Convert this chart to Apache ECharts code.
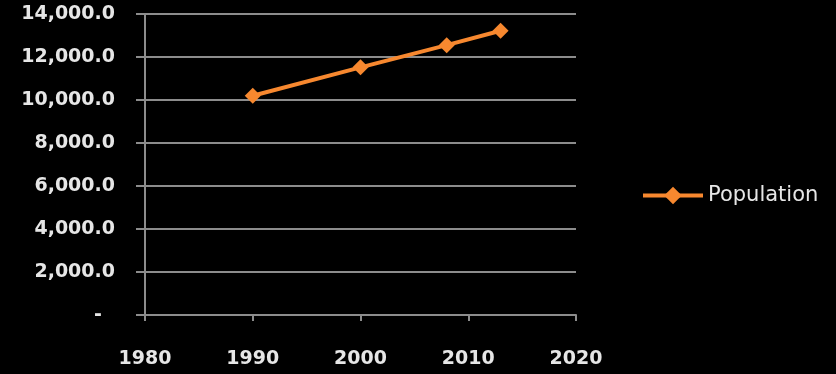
<!DOCTYPE html>
<html>
<head>
<meta charset="utf-8">
<script src="https://cdn.jsdelivr.net/npm/echarts@6/dist/echarts.min.js"></script>
<style>
  html, body { margin: 0; padding: 0; background: #000; }
  #chart { width: 836px; height: 374px; }
</style>
</head>
<body>
<div id="chart"></div>
<script>
// Population by year
const years = [1990, 2000, 2008, 2013];
const population = [10200, 11520, 12550, 13220];
const seriesName = 'Population';

const chart = echarts.init(document.getElementById('chart'));
const axisGray = '#8c8c8c';
const textColor = '#e6e6e6';
const orange = '#f7882f';
const labelFont = 'DejaVu Sans';

chart.setOption({
  backgroundColor: '#000',
  animation: false,
  grid: { left: 145, right: 260, top: 14, bottom: 59 },
  legend: {
    data: [seriesName],
    left: 636,
    top: 180,
    itemWidth: 60,
    itemHeight: 22,
    itemGap: 5,
    lineStyle: { width: 4 },
    textStyle: { color: textColor, fontSize: 21, fontFamily: labelFont }
  },
  xAxis: {
    type: 'value',
    min: 1980,
    max: 2020,
    interval: 10,
    splitLine: { show: false },
    axisLine: { show: true, onZero: false, lineStyle: { color: axisGray, width: 2 } },
    axisTick: { show: true, length: 6, lineStyle: { color: axisGray, width: 2 } },
    axisLabel: {
      color: textColor, fontSize: 19, fontWeight: 'bold', fontFamily: labelFont, margin: 35,
      formatter: v => String(v)
    }
  },
  yAxis: {
    type: 'value',
    min: 0,
    max: 14000,
    interval: 2000,
    axisLine: { show: true, lineStyle: { color: axisGray, width: 2 } },
    axisTick: { show: true, length: 9, lineStyle: { color: axisGray, width: 2 } },
    splitLine: { show: true, lineStyle: { color: axisGray, width: 2 } },
    axisLabel: {
      color: textColor, fontSize: 19, fontWeight: 'bold', fontFamily: labelFont, margin: 30,
      formatter: v => v === 0 ? '-  ' : v.toLocaleString('en-US', { minimumFractionDigits: 1, maximumFractionDigits: 1 })
    }
  },
  series: [{
    name: seriesName,
    type: 'line',
    data: years.map((y, i) => [y, population[i]]),
    symbol: 'diamond',
    symbolSize: 16,
    lineStyle: { color: orange, width: 4 },
    itemStyle: { color: orange }
  }]
});
</script>
</body>
</html>
